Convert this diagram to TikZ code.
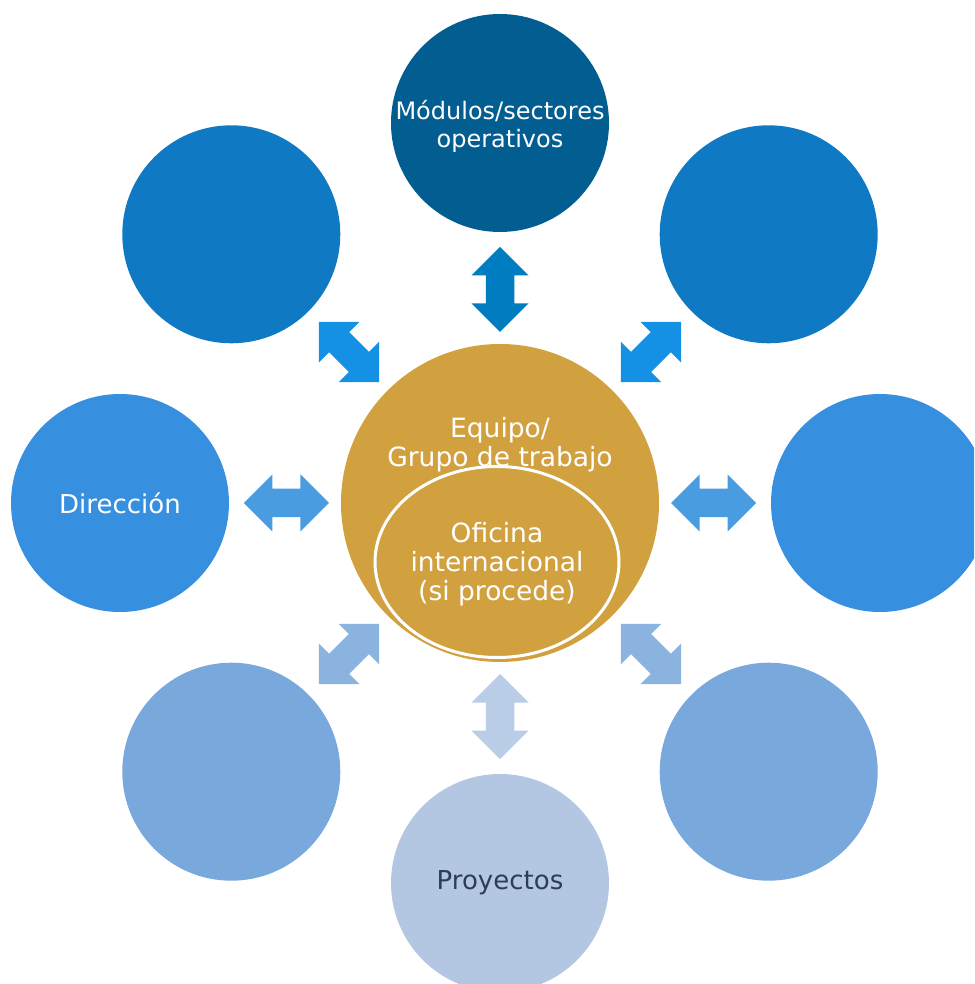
\documentclass[tikz,border=0pt]{standalone}
\usepackage{fontspec}
\setmainfont{DejaVu Sans}
\usetikzlibrary{shapes.geometric}

\definecolor{cMod}{HTML}{025D91}
\definecolor{cUp}{HTML}{0F79C3}
\definecolor{cMid}{HTML}{368FDF}
\definecolor{cLow}{HTML}{79A8DD}
\definecolor{cBot}{HTML}{B3C7E3}
\definecolor{cEq}{HTML}{D2A13F}
\definecolor{cDark}{HTML}{2D3D57}
\definecolor{aTop}{HTML}{007CC0}
\definecolor{aUp}{HTML}{1490E4}
\definecolor{aMid}{HTML}{4A9CE0}
\definecolor{aLow}{HTML}{8AB3E0}
\definecolor{aBot}{HTML}{BACDE6}

\begin{document}
\begin{tikzpicture}[x=1pt, y=1pt,
  bubble/.style={circle, minimum size=218pt, inner sep=0pt, text=white, align=center,
    font=\fontsize{26}{29}\selectfont},
  label/.style={text=white, align=center, font=\fontsize{26.5}{29}\selectfont}]
%\draw[help lines] (-500,-481) grid (474,503);
\useasboundingbox (-500,-481) rectangle (474,503);
\clip (-500,-481) rectangle (474,503);

% centre
\node [bubble, fill=cEq, minimum size=318pt] (eq) at (0,0) {};
\node [label] (eqtxt) at (0,58) {Equipo/\\Grupo de trabajo};
\node [ellipse, draw=white, line width=3pt, inner sep=0pt, minimum width=244pt,
  minimum height=191pt] (ofi) at (-3,-59) {};
\node [label] (ofitxt) at (-3,-61) {Oficina\\internacional\\(si procede)};

% outer ring
\node [bubble, fill=cMod] (mod) at (90:380) {};
\node [label, font=\fontsize{24}{28}\selectfont] (modtxt) at ([yshift=-3pt]mod.center) {Módulos/sectores\\operativos};
\node [bubble, fill=cUp] (nw) at (135:380) {};
\node [bubble, fill=cUp] (ne) at (45:380) {};
\node [bubble, fill=cMid] (dir) at (180:380) {Dirección};
\node [bubble, fill=cMid] (est) at (0:380) {};
\node [bubble, fill=cLow] (sw) at (225:380) {};
\node [bubble, fill=cLow] (se) at (315:380) {};
\node [bubble, fill=cBot, text=cDark] (proy) at (270:380) {Proyectos};

% arrows
\foreach \ang/\col in {90/aTop, 45/aUp, 135/aUp, 0/aMid, 180/aMid, 225/aLow, 315/aLow, 270/aBot}
  \fill [\col, shift={(eq.center)}, rotate=\ang, shift={(213.5,0)}]
    (-42.5,0) -- (-14,28.5) -- (-14,14.25) -- (14,14.25) -- (14,28.5) -- (42.5,0)
    -- (14,-28.5) -- (14,-14.25) -- (-14,-14.25) -- (-14,-28.5) -- cycle;
\end{tikzpicture}
\end{document}
